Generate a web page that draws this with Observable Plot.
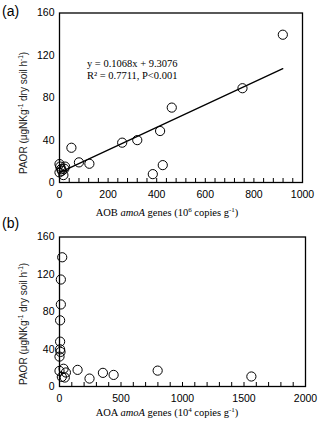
<!DOCTYPE html>
<html><head><meta charset="utf-8">
<script src="https://cdn.jsdelivr.net/npm/d3@7"></script>
<script src="https://cdn.jsdelivr.net/npm/@observablehq/plot@0.6"></script>
<style>
body{margin:0;background:#fff}
#wrap{position:relative;width:320px;height:424px}
#wrap svg{position:absolute;left:0;overflow:visible;background:transparent}
</style>
</head><body><div id="wrap"></div>
<script>
// Panel (a): AOB amoA genes (10^6 copies g-1) vs PAOR
const aobX  = [919, 753, 462, 414, 425, 384, 320, 258, 123, 80, 49, 0, 0, 23, 16, 7, 3, 10, 20];
const paorA = [139.5, 89, 70.7, 48.6, 16.4, 7.9, 40, 37.6, 17.7, 19, 32.8, 17.4, 9.5, 15, 7, 12.6, 15, 11, 13];
// Panel (b): AOA amoA genes (10^4 copies g-1) vs PAOR
const aoaX  = [22, 11, 11, 5, 5, 5, 8, 0, 0, 33, 52, 19, 43, 147, 244, 353, 440, 798, 1560];
const paorB = [138.3, 114.5, 87.8, 70.8, 48, 39.8, 37, 32, 16.7, 19, 15, 10.3, 9.6, 17.8, 8.5, 14.6, 12.4, 17, 10.7];
// Regression (panel a)
const slope = 0.1068, intercept = 9.3076;
const eqText = "y = 0.1068x + 9.3076\nR² = 0.7711, P<0.001";
// Axis ticks
const yTicks = [0, 40, 80, 120, 160];
const xTicksA = [0, 200, 400, 600, 800, 1000];
const xTicksB = [0, 500, 1000, 1500, 2000];
const xMinorA = d3.range(0, 1001, 40);
const xMinorB = d3.range(0, 2001, 100);

const wrap = document.getElementById("wrap");

// parts: array of [text, kind] where kind: "n" normal, "i" italic, "s" superscript
function richText(sel, parts, supSize) {
  let raised = false;
  parts.forEach(([t, kind]) => {
    const ts = sel.append("tspan").text(t);
    if (kind === "s") {
      ts.attr("font-size", supSize);
      if (!raised) { ts.attr("dy", -3.8); raised = true; }
    } else {
      if (raised) { ts.attr("dy", 3.8); raised = false; }
      if (kind === "i") ts.attr("font-style", "italic");
    }
  });
}

function panel(opts) {
  const {xs, ys, xDomain, xMajor, xMinor, marginTop, marginBottom, marginRight, top, extraMarks, panelLabel, labelY, geneA, expo, titleY, yTitleBottom} = opts;
  const data = xs.map((x, i) => ({x, y: ys[i]}));
  const chart = Plot.plot({
    width: 320, height: 212,
    marginLeft: 59, marginRight, marginTop, marginBottom,
    style: {fontFamily: "'Liberation Sans', Arial, sans-serif", fontSize: "10.5px", color: "#000", background: "transparent", overflow: "visible"},
    x: {domain: xDomain, label: null},
    y: {domain: [0, 160], label: null},
    marks: [
      Plot.axisX({ticks: xMinor, tickSize: -4, tickFormat: () => "", stroke: "#000"}),
      Plot.axisX({ticks: xMajor, tickSize: 0, tickPadding: 8, tickFormat: d => String(d), fill: "#000"}),
      Plot.axisY({ticks: yTicks, tickSize: 0, tickPadding: 5, tickFormat: d => String(d), fill: "#000"}),
      ...(extraMarks || []),
      Plot.dot(data, {x: "x", y: "y", r: 4.6, stroke: "#000", strokeWidth: 1, fill: "none"}),
      Plot.frame({stroke: "#000", strokeWidth: 1.3})
    ]
  });
  chart.style.top = top + "px";
  const svg = d3.select(chart);
  svg.append("text").attr("x", 2).attr("y", labelY).attr("text-anchor", "start")
    .attr("font-family", "'Liberation Sans', Arial, sans-serif").attr("font-size", "14px").attr("fill", "#000")
    .text(panelLabel);
  // y title
  const yt = svg.append("text")
    .attr("transform", `translate(27,${yTitleBottom}) rotate(-90)`)
    .attr("font-family", "'Liberation Sans', Arial, sans-serif").attr("font-size", "10px").attr("fill", "#222")
    .attr("text-anchor", "start");
  richText(yt, [["PAOR (μgNKg", "n"], ["-1", "s"], [" dry soil h", "n"], ["-1", "s"], [")", "n"]], "6.5px");
  // x title
  const xt = svg.append("text").attr("x", 167).attr("y", titleY)
    .attr("font-family", "'Liberation Serif', 'Times New Roman', serif").attr("font-size", "10.5px").attr("fill", "#000")
    .attr("text-anchor", "middle");
  richText(xt, [[geneA + " ", "n"], ["amoA", "i"], [" genes (10", "n"], [expo, "s"], [" copies g", "n"], ["-1", "s"], [")", "n"]], "7px");
  wrap.appendChild(chart);
}

const xMinData = d3.min(aobX), xMaxData = d3.max(aobX);
const fitLine = [xMinData, xMaxData].map(x => ({x, y: slope * x + intercept}));

panel({
  xs: aobX, ys: paorA, xDomain: [0, 1000], xMajor: xTicksA, xMinor: xMinorA,
  marginTop: 12.5, marginBottom: 30, marginRight: 18, top: 0,
  extraMarks: [
    Plot.line(fitLine, {x: "x", y: "y", stroke: "#000", strokeWidth: 1.3}),
    Plot.text([eqText], {x: () => 113, y: () => 107, text: d => d, textAnchor: "start", lineHeight: 1.2,
      fontFamily: "'Liberation Serif', 'Times New Roman', serif", fontSize: 10.5, fill: "#000"})
  ],
  panelLabel: "(a)", labelY: 16, geneA: "AOB", expo: "6", titleY: 216, yTitleBottom: 174
});

panel({
  xs: aoaX, ys: paorB, xDomain: [0, 2000], xMajor: xTicksB, xMinor: xMinorB,
  marginTop: 24.5, marginBottom: 38, marginRight: 15, top: 212,
  extraMarks: [],
  panelLabel: "(b)", labelY: 16, geneA: "AOA", expo: "4", titleY: 204, yTitleBottom: 173
});
</script>
</body></html>
